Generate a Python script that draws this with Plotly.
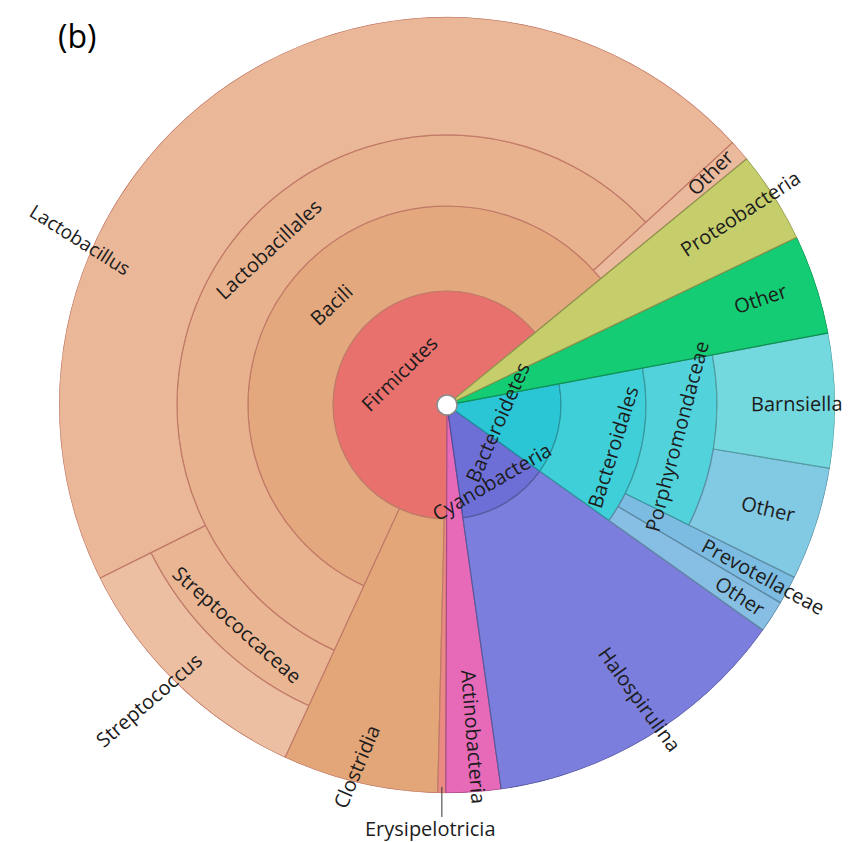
import math
import plotly.graph_objects as go

# ---- taxonomy, listed in counter-clockwise drawing order ----
node_ids = [
    "Firmicutes", "Bacili", "Bacili/Other", "Lactobacillales", "Lactobacillus",
    "Streptococcaceae", "Streptococcus", "Clostridia", "Erysipelotricia",
    "Actinobacteria", "Cyanobacteria", "Halospirulina",
    "Bacteroidetes", "Bacteroidales", "Bacteroidales/Other", "Prevotellaceae",
    "Porphyromondaceae", "Porphyromondaceae/Other", "Barnsiella",
    "Other", "Proteobacteria",
]
node_labels = [
    "Firmicutes", "Bacili", "Other", "Lactobacillales", "Lactobacillus",
    "Streptococcaceae", "Streptococcus", "Clostridia", "Erysipelotricia",
    "Actinobacteria", "Cyanobacteria", "Halospirulina",
    "Bacteroidetes", "Bacteroidales", "Other", "Prevotellaceae",
    "Porphyromondaceae", "Other", "Barnsiella",
    "Other", "Proteobacteria",
]
node_parents = [
    "", "Firmicutes", "Bacili", "Bacili", "Lactobacillales",
    "Lactobacillales", "Streptococcaceae", "Firmicutes", "Firmicutes",
    "", "", "Cyanobacteria",
    "", "Bacteroidetes", "Bacteroidales", "Bacteroidales",
    "Bacteroidales", "Porphyromondaceae", "Porphyromondaceae",
    "", "",
]
# relative abundance (%) of the leaf taxa; inner taxa are the sum of their children
leaf_abundance = [
    None, None, 0.89, None, 45.53,
    None, 10.78, 6.47, 0.33,
    2.28, None, 12.92,
    None, None, 1.33, 1.19,
    None, 4.72, 5.58,
    4.14, 3.83,
]

# ---- styling ----
START_ANGLE = 39.4                     # where the first phylum begins (deg, ccw from 3 o'clock)
RING_EDGES = [10, 114, 199, 270, 331]  # inner radius of each depth level
OUTER = 388                            # outer radius; leaves extend to it

colors = {
    "Firmicutes": "#E8716D", "Bacili": "#E4A87E", "Bacili/Other": "#EBB99C",
    "Lactobacillales": "#E8B28E", "Lactobacillus": "#EBB799",
    "Streptococcaceae": "#E9B593", "Streptococcus": "#EDBFA2",
    "Clostridia": "#E3A679", "Erysipelotricia": "#EA8A82",
    "Actinobacteria": "#E76AB9", "Cyanobacteria": "#6E6ED7", "Halospirulina": "#7B7EDC",
    "Bacteroidetes": "#2BC6D6", "Bacteroidales": "#3ECFD9",
    "Bacteroidales/Other": "#86BFE3", "Prevotellaceae": "#7DBCE2",
    "Porphyromondaceae": "#52D3DC", "Porphyromondaceae/Other": "#82C9E4",
    "Barnsiella": "#74D9DF", "Other": "#14CC73", "Proteobacteria": "#C6CE6B",
}
FIRMICUTES_EDGE = "#C17A68"

# label placement: orientation, radius, angular offset from segment middle, extra tilt
label_style = {
    "Firmicutes": ("tan", 57, -8, 12),
    "Bacili": ("tan", 153, -3.3, 6),
    "Lactobacillales": ("tan", 237, -5, 6),
    "Lactobacillus": ("rad", 402, 31.2, 8),
    "Bacili/Other": ("rad", 351, 0.5, -3),
    "Proteobacteria": ("rad", 350, 0.7, 0),
    "Other": ("rad", 331, 0.7, 0),
    "Barnsiella": ("rad", 350, -0.4, 0),
    "Porphyromondaceae/Other": ("rad", 337, 0, -5),
    "Prevotellaceae": ("rad", 360, 0, 0),
    "Bacteroidales/Other": ("rad", 349, 0, 0),
    "Porphyromondaceae": ("tan", 232, 0, 7),
    "Bacteroidales": ("tan", 171, -2, 3),
    "Bacteroidetes": ("tan", 53, -6.6, 5),
    "Cyanobacteria": ("tan", 89, -1, 0),
    "Halospirulina": ("rad", 352, 2, -3),
    "Actinobacteria": ("rad", 333, 0.6, 0),
    "Clostridia": ("rad", 373, -1, 9),
    "Streptococcaceae": ("tan", 304, 0.4, -2),
    "Streptococcus": ("rad", 420, -1.3, 4),
}
FONT = "Open Sans, Noto Sans, sans-serif"
TEXT_COLOR = "#1c1c1c"

# ---- hierarchy layout ----
children = {i: [] for i in node_ids}
for nid, par in zip(node_ids, node_parents):
    if par:
        children[par].append(nid)
leaf_of = dict(zip(node_ids, leaf_abundance))
label_of = dict(zip(node_ids, node_labels))
parent_of = dict(zip(node_ids, node_parents))


def total(nid):
    if not children[nid]:
        return leaf_of[nid]
    return sum(total(c) for c in children[nid])


def depth(nid):
    d = 0
    while parent_of[nid]:
        nid = parent_of[nid]
        d += 1
    return d


def root_of(nid):
    while parent_of[nid]:
        nid = parent_of[nid]
    return nid


grand = sum(total(n) for n in node_ids if not parent_of[n])
geom = {}


def place(nid, a0):
    span = total(nid) / grand * 360.0
    d = depth(nid)
    r0 = RING_EDGES[d]
    r1 = RING_EDGES[d + 1] if children[nid] else OUTER
    geom[nid] = (a0, a0 + span, r0, r1)
    a = a0
    for c in children[nid]:
        a = place(c, a)
    return a0 + span


a = START_ANGLE
for n in node_ids:
    if not parent_of[n]:
        a = place(n, a)


def darken(hex_color, f=0.72):
    h = hex_color.lstrip("#")
    r, g, b = (int(h[i:i + 2], 16) for i in (0, 2, 4))
    return f"rgb({int(r * f)},{int(g * f)},{int(b * f)})"


theta, width, base, rlen, fill, edge, hover = [], [], [], [], [], [], []
for n in node_ids:
    a0, a1, r0, r1 = geom[n]
    theta.append((a0 + a1) / 2)
    width.append(a1 - a0)
    base.append(r0)
    rlen.append(r1 - r0)
    fill.append(colors[n])
    edge.append(FIRMICUTES_EDGE if root_of(n) == "Firmicutes" else darken(colors[n]))
    hover.append(f"{label_of[n]}<br>{total(n):.2f}%")

fig = go.Figure()
fig.add_trace(go.Barpolar(
    theta=theta, width=width, base=base, r=rlen,
    marker=dict(color=fill, line=dict(color=edge, width=1.2)),
    hovertext=hover, hoverinfo="text", showlegend=False,
))
# empty cartesian overlay used to position the labels
fig.add_trace(go.Scatter(x=[], y=[], xaxis="x", yaxis="y", showlegend=False, hoverinfo="skip"))

# ---- frame ----
W, H = 859, 842
CX, CY = 447, 405
dom_x = [(CX - OUTER) / W, (CX + OUTER) / W]
dom_y = [(H - CY - OUTER) / H, (H - CY + OUTER) / H]


def norm(d):
    d = d % 360
    if 90 < d <= 270:
        d -= 180
    elif d > 270:
        d -= 360
    return d


annotations = []
for n, (mode, r, dt, tilt) in label_style.items():
    a0, a1, _, _ = geom[n]
    th = (a0 + a1) / 2 + dt
    direction = th if mode == "rad" else th - 90
    ang = -norm(direction) + tilt
    annotations.append(dict(
        x=r * math.cos(math.radians(th)), y=r * math.sin(math.radians(th)),
        xref="x", yref="y", text=label_of[n], showarrow=False,
        textangle=ang, xanchor="center", yanchor="middle",
        font=dict(family=FONT, size=19 if n == "Lactobacillus" else 20, color=TEXT_COLOR),
    ))

# thin class label drawn outside the circle with a leader line
a0, a1, _, _ = geom["Erysipelotricia"]
th = math.radians((a0 + a1) / 2)
ex, ey = 382 * math.cos(th), 382 * math.sin(th)
annotations.append(dict(
    x=ex, y=ey, xref="x", yref="y", text=" ", showarrow=True,
    ax=0, ay=40, arrowhead=0, arrowwidth=1, arrowcolor="#333333",
    font=dict(size=12),
))
annotations.append(dict(
    x=ex, y=ey, xref="x", yref="y", text="Erysipelotricia", showarrow=False,
    xshift=-11, yshift=-42, xanchor="center", yanchor="middle",
    font=dict(family=FONT, size=20, color=TEXT_COLOR),
))
annotations.append(dict(
    x=77 / W, y=1 - 35 / H, xref="paper", yref="paper", text="(b)", showarrow=False,
    xanchor="center", yanchor="middle", font=dict(family=FONT, size=32, color="#000000"),
))

fig.update_layout(
    width=W, height=H, autosize=False,
    margin=dict(l=0, r=0, t=0, b=0),
    paper_bgcolor="white", plot_bgcolor="rgba(0,0,0,0)",
    polar=dict(
        domain=dict(x=dom_x, y=dom_y),
        bgcolor="rgba(0,0,0,0)", bargap=0, hole=0,
        radialaxis=dict(range=[0, OUTER], visible=False, showgrid=False),
        angularaxis=dict(rotation=0, direction="counterclockwise", visible=False, showgrid=False),
    ),
    xaxis=dict(domain=dom_x, range=[-OUTER, OUTER], visible=False, fixedrange=True),
    yaxis=dict(domain=dom_y, range=[-OUTER, OUTER], visible=False, fixedrange=True),
    annotations=annotations,
    shapes=[dict(type="circle", xref="x", yref="y", x0=-10, x1=10, y0=-10, y1=10,
                 fillcolor="white", line=dict(color="#8c8c8c", width=1.5), layer="above")],
)

fig.write_html("out.html")
